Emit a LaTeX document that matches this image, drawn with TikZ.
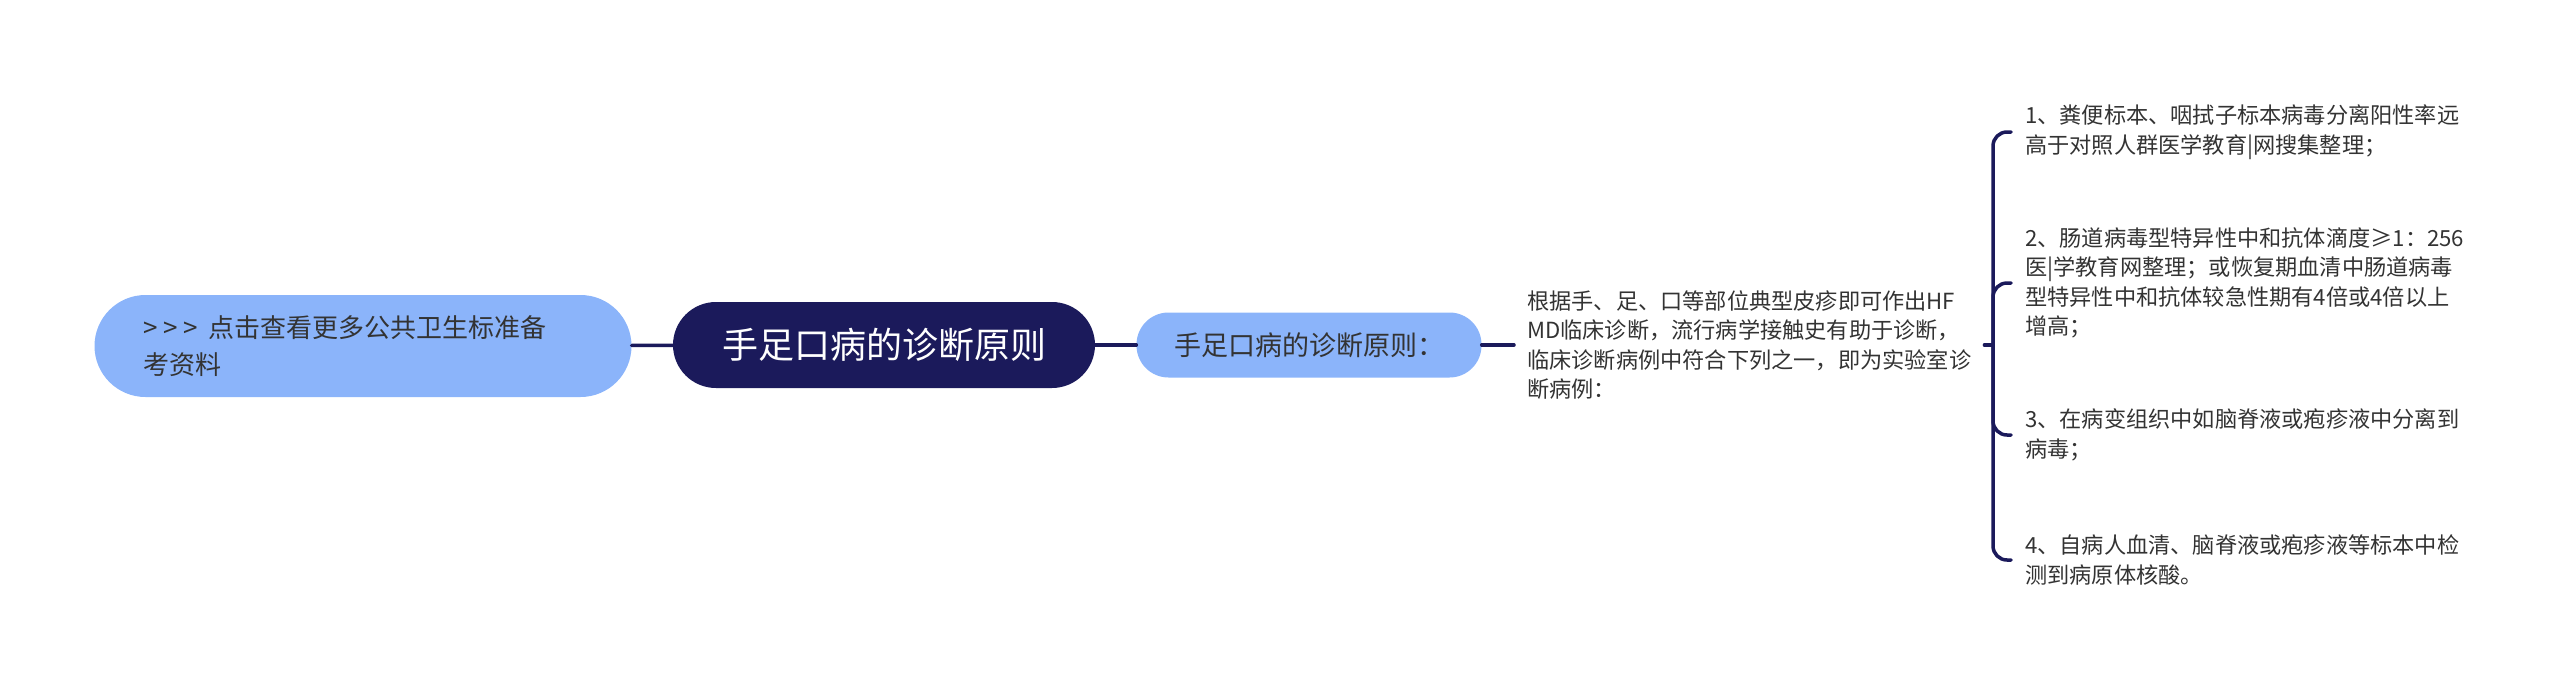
\documentclass[tikz,border=0pt]{standalone}
\usepackage{fontspec}
\setmainfont{Noto Sans CJK SC}
\usetikzlibrary{positioning}
\definecolor{navy}{RGB}{27,26,91}
\definecolor{lightblue}{RGB}{139,180,250}
\definecolor{textgray}{RGB}{51,51,51}

\tikzset{
  pill/.style={rounded corners=#1, inner sep=0pt, font=\fontsize{26}{37}\selectfont},
  rootbox/.style={pill=43pt, fill=navy, text=white, minimum width=422pt, minimum height=86pt, font=\fontsize{36}{44}\selectfont},
  subbox/.style={pill=32pt, fill=lightblue, text=textgray, minimum width=345pt, minimum height=65pt, font=\fontsize{27}{37}\selectfont},
  plain/.style={text=textgray, align=left, inner xsep=13pt, inner ysep=0pt, font=\fontsize{22.2}{29.5}\selectfont},
  link/.style={draw=navy, line width=3.5pt}
}

\begin{document}
\begin{tikzpicture}[x=1pt,y=-1pt,line cap=round,line join=round]
\useasboundingbox (0,0) rectangle (2560,691);

% Hauptknoten
\node[rootbox] (root) at (884,345) {手足口病的诊断原则};
\node[pill=51pt, fill=lightblue, text=textgray, minimum width=537pt, minimum height=102pt,
      text width=440pt, align=left] (more) at (363,346) {>\hspace{6pt}>\hspace{6pt}>\hspace{10pt}点击查看更多公共卫生标准备\\考资料};
\node[subbox] (sub) at (1309,345) {手足口病的诊断原则：};

% Beschreibung
\node[plain, anchor=west] (desc) at (1514,345) {根据手、足、口等部位典型皮疹即可作出HF\\MD临床诊断，流行病学接触史有助于诊断，\\临床诊断病例中符合下列之一，即为实验室诊\\断病例：};

% Kriterien
\node[plain, anchor=west, inner xsep=14pt] (c1) at (2011,132) {1、粪便标本、咽拭子标本病毒分离阳性率远\\高于对照人群医学教育|网搜集整理；};
\node[plain, anchor=west, inner xsep=14pt] (c2) at (2011,283) {2、肠道病毒型特异性中和抗体滴度≥1：256\\医|学教育网整理；或恢复期血清中肠道病毒\\型特异性中和抗体较急性期有4倍或4倍以上\\增高；};
\node[plain, anchor=west, inner xsep=14pt] (c3) at (2011,435) {3、在病变组织中如脑脊液或疱疹液中分离到\\病毒；};
\node[plain, anchor=west, inner xsep=14pt] (c4) at (2011,560) {4、自病人血清、脑脊液或疱疹液等标本中检\\测到病原体核酸。};

% Verbindungen
\draw[link] (more) -- (root);
\draw[link] (root) -- (sub);
\draw[link] (sub) -- (desc);
\coordinate (jn) at (1993,345);
\draw[link] (desc.east) -- (jn);
\foreach \c in {c1,c2,c3,c4}
    \draw[link, rounded corners=14pt] (jn) |- (\c.west);
\end{tikzpicture}
\end{document}
